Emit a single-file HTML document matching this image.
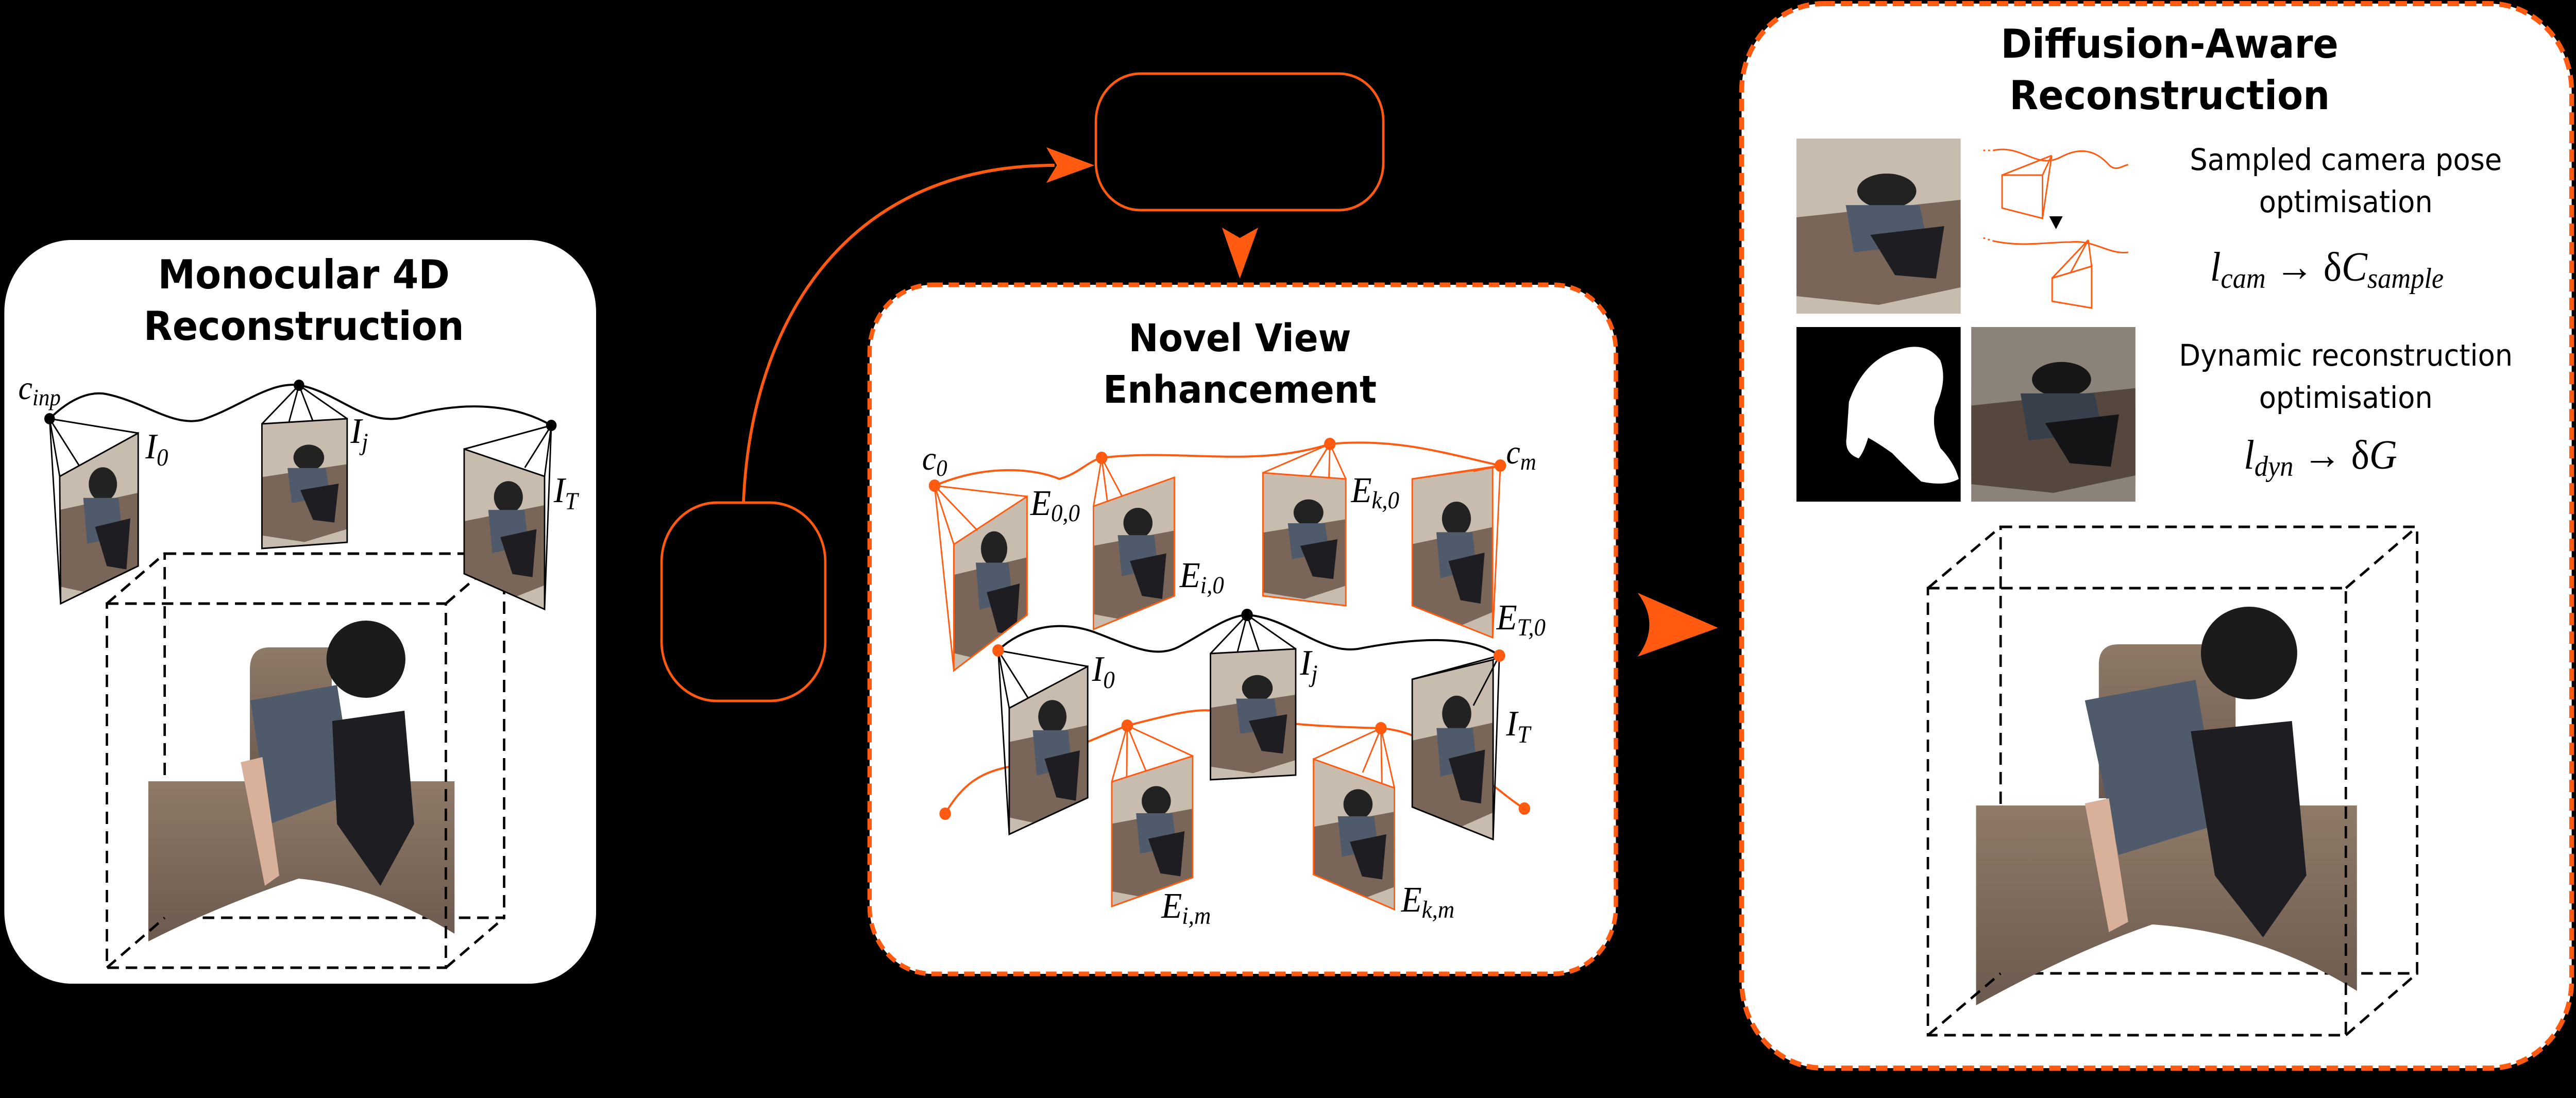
<!DOCTYPE html>
<html><head><meta charset="utf-8"><style>
html,body{margin:0;padding:0;background:#000;width:100vw;height:100vh;overflow:hidden;}
svg{display:block;width:100vw;height:100vh;}
.t{font-family:"DejaVu Sans","Liberation Sans",sans-serif;font-weight:bold;fill:#000;text-anchor:middle;}
.n{font-family:"DejaVu Sans","Liberation Sans",sans-serif;fill:#000;text-anchor:middle;}
.m{font-family:"Liberation Serif",serif;font-style:italic;fill:#000;}
</style></head><body>
<svg viewBox="0 0 5350 2132" preserveAspectRatio="none" xmlns="http://www.w3.org/2000/svg">
<defs>
<pattern id="ph" patternContentUnits="objectBoundingBox" width="1" height="1">
<rect width="1" height="1" fill="#c8bcae"/>
<polygon points="0,0.45 1,0.35 1,0.85 0.5,0.95 0,0.9" fill="#7a6658"/>
<ellipse cx="0.55" cy="0.3" rx="0.18" ry="0.1" fill="#222"/>
<polygon points="0.3,0.38 0.75,0.38 0.8,0.6 0.35,0.65" fill="#4f5b6a"/>
<polygon points="0.45,0.55 0.9,0.5 0.85,0.8 0.6,0.78" fill="#1e1e22"/>
</pattern>
<linearGradient id="sofa" x1="0" y1="0" x2="0" y2="1"><stop offset="0" stop-color="#8f7a68"/><stop offset="1" stop-color="#6b5a4e"/></linearGradient>
</defs>
<rect width="5350" height="2132" fill="#000"/>

<!-- LEFT PANEL -->
<rect x="9" y="466" width="1229" height="1444" rx="140" fill="#fff"/>
<text class="t" x="631" y="560" font-size="78">Monocular 4D</text>
<text class="t" x="631" y="660" font-size="78">Reconstruction</text>
<g fill="none" stroke="#000" stroke-width="5" stroke-dasharray="24,14">
<rect x="342" y="1075" width="705" height="707"/>
</g>
<path d="M519,1300 Q519,1257 560,1257 L689,1257 L689,1512 L519,1512 Z" fill="url(#sofa)"/>
<path d="M308,1517 L944,1517 L944,1813 Q780,1720 620,1706 Q450,1760 308,1828 Z" fill="url(#sofa)"/>
<polygon points="520,1360 700,1330 735,1540 560,1600" fill="#4f5b6a"/>
<polygon points="690,1400 840,1380 860,1600 790,1720 700,1600" fill="#1d1d22"/>
<ellipse cx="760" cy="1280" rx="82" ry="75" fill="#1b1b1b"/>
<polygon points="500,1480 545,1470 580,1700 550,1720" fill="#d9b09a"/>
<g fill="none" stroke="#000" stroke-width="5" stroke-dasharray="24,14">
<rect x="222" y="1172" width="704" height="707"/>
<line x1="222" y1="1172" x2="342" y2="1075"/><line x1="926" y1="1172" x2="1047" y2="1075"/>
<line x1="222" y1="1879" x2="342" y2="1782"/><line x1="926" y1="1879" x2="1047" y2="1782"/>
</g>
<path d="M103,813 C150,770 190,760 220,765 C300,780 360,830 420,815 C500,790 560,740 621,748 C700,760 760,830 840,810 C950,780 1060,780 1145,826" fill="none" stroke="#000" stroke-width="4"/>
<g stroke="#000" stroke-width="3">
<polygon points="124,925 287,841 287,1099 126,1172" fill="url(#ph)"/>
<line x1="103" y1="813" x2="287" y2="841"/><line x1="103" y1="813" x2="126" y2="1172"/><line x1="103" y1="813" x2="165" y2="905"/><line x1="103" y1="813" x2="124" y2="925"/>
<polygon points="544,823 721,813 721,1053 544,1065" fill="url(#ph)"/>
<line x1="621" y1="748" x2="544" y2="823"/><line x1="621" y1="748" x2="721" y2="813"/><line x1="621" y1="748" x2="600" y2="820"/><line x1="621" y1="748" x2="650" y2="818"/>
<polygon points="964,872 1131,925 1131,1183 964,1114" fill="url(#ph)"/>
<line x1="1145" y1="826" x2="964" y2="872"/><line x1="1145" y1="826" x2="1131" y2="1183"/><line x1="1145" y1="826" x2="1090" y2="908"/><line x1="1145" y1="826" x2="1131" y2="925"/>
</g>
<circle cx="103" cy="813" r="11" fill="#000"/><circle cx="621" cy="748" r="11" fill="#000"/><circle cx="1145" cy="826" r="11" fill="#000"/>
<text class="m" x="38" y="775" font-size="66">c<tspan font-size="46" dy="12">inp</tspan></text>
<text class="m" x="302" y="890" font-size="70">I<tspan font-size="48" dy="14">0</tspan></text>
<text class="m" x="728" y="860" font-size="70">I<tspan font-size="48" dy="14">j</tspan></text>
<text class="m" x="1150" y="975" font-size="70">I<tspan font-size="48" dy="14">T</tspan></text>

<rect x="1374" y="976" width="340" height="385" rx="115" fill="#000" stroke="#ff5a10" stroke-width="5"/>
<path d="M1544,976 C1560,620 1760,321 2190,321" fill="none" stroke="#ff5a10" stroke-width="6"/>
<polygon points="2273,321 2173,286 2195,321 2173,355" fill="#ff5a10"/>
<rect x="2276" y="143" width="597" height="265" rx="92" fill="#000" stroke="#ff5a10" stroke-width="5"/>
<polygon points="2575,541 2538,442 2575,462 2613,442" fill="#ff5a10"/>

<!-- MIDDLE PANEL -->
<rect x="1806" y="553" width="1550" height="1338" rx="130" fill="#fff" stroke="#ff5a10" stroke-width="9" stroke-dasharray="22,12"/>
<text class="t" x="2575" y="682" font-size="74">Novel View</text>
<text class="t" x="2575" y="782" font-size="74">Enhancement</text>
<path d="M1941,943 C2050,900 2150,910 2200,930 C2240,920 2260,895 2288,889 C2450,870 2600,910 2762,862 C2900,850 3000,880 3116,904" fill="none" stroke="#ff5a10" stroke-width="4"/>
<g stroke="#ff5a10" stroke-width="3">
<polygon points="1981,1057 2133,964 2133,1194 1981,1302" fill="url(#ph)"/>
<line x1="1941" y1="943" x2="2133" y2="964"/><line x1="1941" y1="943" x2="1981" y2="1302"/><line x1="1941" y1="943" x2="1981" y2="1057"/><line x1="1941" y1="943" x2="2030" y2="1030"/>
<polygon points="2271,983 2439,927 2439,1157 2271,1222" fill="url(#ph)"/>
<line x1="2288" y1="889" x2="2271" y2="983"/><line x1="2288" y1="889" x2="2330" y2="963"/><line x1="2288" y1="889" x2="2300" y2="975"/>
<polygon points="2623,918 2795,930 2795,1176 2623,1157" fill="url(#ph)"/>
<line x1="2762" y1="862" x2="2623" y2="918"/><line x1="2762" y1="862" x2="2795" y2="930"/><line x1="2762" y1="862" x2="2760" y2="928"/><line x1="2762" y1="862" x2="2720" y2="925"/>
<polygon points="2933,930 3100,908 3100,1238 2933,1176" fill="url(#ph)"/>
<line x1="3116" y1="904" x2="2933" y2="930"/><line x1="3116" y1="904" x2="3100" y2="1238"/><line x1="3116" y1="904" x2="3060" y2="915"/><line x1="3116" y1="904" x2="3100" y2="908"/>
</g>
<circle cx="1941" cy="943" r="12" fill="#ff5a10"/><circle cx="2288" cy="889" r="12" fill="#ff5a10"/><circle cx="2762" cy="862" r="12" fill="#ff5a10"/><circle cx="3116" cy="904" r="12" fill="#ff5a10"/>
<path d="M1963,1580 C2000,1520 2040,1500 2090,1490 C2200,1470 2280,1430 2341,1409 C2420,1390 2480,1375 2520,1380 C2600,1400 2700,1410 2868,1414 C2960,1420 3020,1480 3060,1500 C3100,1520 3130,1550 3166,1570" fill="none" stroke="#ff5a10" stroke-width="4"/>
<path d="M2073,1263 C2120,1220 2200,1200 2280,1230 C2350,1255 2400,1280 2450,1255 C2500,1230 2550,1195 2590,1194 C2680,1200 2740,1270 2820,1260 C2930,1240 3050,1230 3114,1273" fill="none" stroke="#000" stroke-width="4"/>
<g stroke="#000" stroke-width="3">
<polygon points="2096,1375 2259,1294 2259,1549 2096,1620" fill="url(#ph)"/>
<line x1="2073" y1="1263" x2="2259" y2="1294"/><line x1="2073" y1="1263" x2="2096" y2="1620"/><line x1="2073" y1="1263" x2="2096" y2="1375"/><line x1="2073" y1="1263" x2="2135" y2="1355"/>
<polygon points="2514,1269 2691,1260 2691,1505 2514,1514" fill="url(#ph)"/>
<line x1="2590" y1="1194" x2="2514" y2="1269"/><line x1="2590" y1="1194" x2="2691" y2="1260"/><line x1="2590" y1="1194" x2="2570" y2="1266"/><line x1="2590" y1="1194" x2="2615" y2="1264"/>
<polygon points="2933,1319 3101,1281 3101,1630 2933,1567" fill="url(#ph)"/>
<line x1="3114" y1="1273" x2="2933" y2="1319"/><line x1="3114" y1="1273" x2="3101" y2="1630"/><line x1="3114" y1="1273" x2="3060" y2="1370"/><line x1="3114" y1="1273" x2="3101" y2="1281"/>
</g>
<g stroke="#ff5a10" stroke-width="3">
<polygon points="2309,1518 2477,1468 2477,1704 2309,1760" fill="url(#ph)"/>
<line x1="2341" y1="1409" x2="2309" y2="1518"/><line x1="2341" y1="1409" x2="2340" y2="1508"/><line x1="2341" y1="1409" x2="2380" y2="1497"/><line x1="2341" y1="1409" x2="2477" y2="1468"/>
<polygon points="2728,1474 2896,1530 2896,1766 2728,1698" fill="url(#ph)"/>
<line x1="2868" y1="1414" x2="2728" y2="1474"/><line x1="2868" y1="1414" x2="2896" y2="1530"/><line x1="2868" y1="1414" x2="2830" y2="1500"/><line x1="2868" y1="1414" x2="2870" y2="1520"/>
</g>
<circle cx="2073" cy="1263" r="12" fill="#ff5a10"/><circle cx="2590" cy="1194" r="12" fill="#000"/><circle cx="3114" cy="1273" r="12" fill="#ff5a10"/>
<circle cx="1963" cy="1580" r="12" fill="#ff5a10"/><circle cx="2341" cy="1409" r="12" fill="#ff5a10"/><circle cx="2868" cy="1414" r="12" fill="#ff5a10"/><circle cx="3166" cy="1570" r="12" fill="#ff5a10"/>
<text class="m" x="1915" y="912" font-size="66">c<tspan font-size="46" dy="12">0</tspan></text>
<text class="m" x="3128" y="900" font-size="66">c<tspan font-size="46" dy="12">m</tspan></text>
<text class="m" x="2140" y="1000" font-size="70">E<tspan font-size="48" dy="12">0,0</tspan></text>
<text class="m" x="2450" y="1140" font-size="70">E<tspan font-size="48" dy="12">i,0</tspan></text>
<text class="m" x="2806" y="975" font-size="70">E<tspan font-size="48" dy="12">k,0</tspan></text>
<text class="m" x="3108" y="1222" font-size="70">E<tspan font-size="48" dy="12">T,0</tspan></text>
<text class="m" x="2268" y="1322" font-size="70">I<tspan font-size="48" dy="14">0</tspan></text>
<text class="m" x="2700" y="1310" font-size="70">I<tspan font-size="48" dy="14">j</tspan></text>
<text class="m" x="3128" y="1428" font-size="70">I<tspan font-size="48" dy="14">T</tspan></text>
<text class="m" x="2412" y="1782" font-size="70">E<tspan font-size="48" dy="12">i,m</tspan></text>
<text class="m" x="2910" y="1770" font-size="70">E<tspan font-size="48" dy="12">k,m</tspan></text>

<path d="M3401,1151 L3568,1219 L3401,1275 Q3450,1213 3401,1151 Z" fill="#ff5a10"/>

<!-- RIGHT PANEL -->
<rect x="3617" y="7" width="1724" height="2067" rx="170" fill="#fff" stroke="#ff5a10" stroke-width="10" stroke-dasharray="24,12"/>
<text class="t" x="4506" y="112" font-size="78">Diffusion-Aware</text>
<text class="t" x="4506" y="212" font-size="78">Reconstruction</text>
<rect x="3731" y="269" width="341" height="340" fill="url(#ph)"/>
<rect x="3731" y="635" width="341" height="339" fill="#000"/>
<path d="M3840,780 Q3870,700 3940,680 Q4000,660 4030,700 Q4045,740 4020,790 Q4010,830 4030,870 Q4060,900 4068,930 Q4040,945 3990,935 Q3950,900 3930,880 Q3900,860 3880,850 Q3870,880 3860,890 Q3830,880 3835,850 Z" fill="#fff"/>
<rect x="4094" y="635" width="341" height="339" fill="url(#ph)"/>
<rect x="4094" y="635" width="341" height="339" fill="#000" opacity="0.3"/>
<g fill="none" stroke="#ff5a10" stroke-width="3">
<path d="M4140,292 C4200,280 4230,330 4280,305 C4330,280 4360,300 4380,320 C4395,335 4410,320 4420,320" />
<path d="M4119,292 L4140,292" stroke-dasharray="4,6"/>
<polygon points="4158,340 4242,340 4242,424 4158,404"/>
<line x1="4158" y1="340" x2="4261" y2="302"/><line x1="4242" y1="340" x2="4261" y2="302"/><line x1="4242" y1="424" x2="4261" y2="302"/>
<path d="M4140,468 C4200,480 4250,470 4300,470 C4350,465 4380,495 4420,490"/>
<path d="M4119,462 L4140,468" stroke-dasharray="4,6"/>
<polygon points="4262,540 4344,517 4344,598 4262,585"/>
<line x1="4262" y1="540" x2="4337" y2="466"/><line x1="4344" y1="517" x2="4337" y2="466"/><line x1="4300" y1="530" x2="4337" y2="466"/>
</g>
<polygon points="4256,420 4284,420 4270,445" fill="#000"/>
<text class="n" x="4872" y="330" font-size="58">Sampled camera pose</text>
<text class="n" x="4872" y="412" font-size="58">optimisation</text>
<text class="m" x="4590" y="545" font-size="80">l<tspan font-size="56" dy="14">cam</tspan><tspan dy="-14" font-style="normal"> → δ</tspan>C<tspan font-size="56" dy="14">sample</tspan></text>
<text class="n" x="4872" y="710" font-size="58">Dynamic reconstruction</text>
<text class="n" x="4872" y="792" font-size="58">optimisation</text>
<text class="m" x="4660" y="910" font-size="80">l<tspan font-size="56" dy="14">dyn</tspan><tspan dy="-14" font-style="normal"> → δ</tspan>G</text>
<g fill="none" stroke="#000" stroke-width="5" stroke-dasharray="24,14">
<rect x="4155" y="1023" width="865" height="867"/>
</g>
<path d="M4359,1290 Q4359,1251 4400,1251 L4643,1251 L4643,1550 L4359,1550 Z" fill="url(#sofa)"/>
<path d="M4104,1564 L4895,1564 L4895,1924 Q4700,1810 4470,1795 Q4300,1850 4104,1952 Z" fill="url(#sofa)"/>
<polygon points="4330,1360 4560,1320 4610,1600 4400,1660" fill="#4f5b6a"/>
<polygon points="4550,1420 4760,1400 4790,1700 4700,1820 4600,1700" fill="#1d1d22"/>
<ellipse cx="4671" cy="1268" rx="100" ry="90" fill="#1b1b1b"/>
<polygon points="4330,1560 4380,1550 4420,1790 4380,1810" fill="#d9b09a"/>
<g fill="none" stroke="#000" stroke-width="5" stroke-dasharray="24,14">
<rect x="4004" y="1142" width="868" height="868"/>
<line x1="4004" y1="1142" x2="4155" y2="1023"/><line x1="4872" y1="1142" x2="5020" y2="1023"/>
<line x1="4004" y1="2010" x2="4155" y2="1890"/><line x1="4872" y1="2010" x2="5020" y2="1890"/>
</g>
</svg>
</body></html>
